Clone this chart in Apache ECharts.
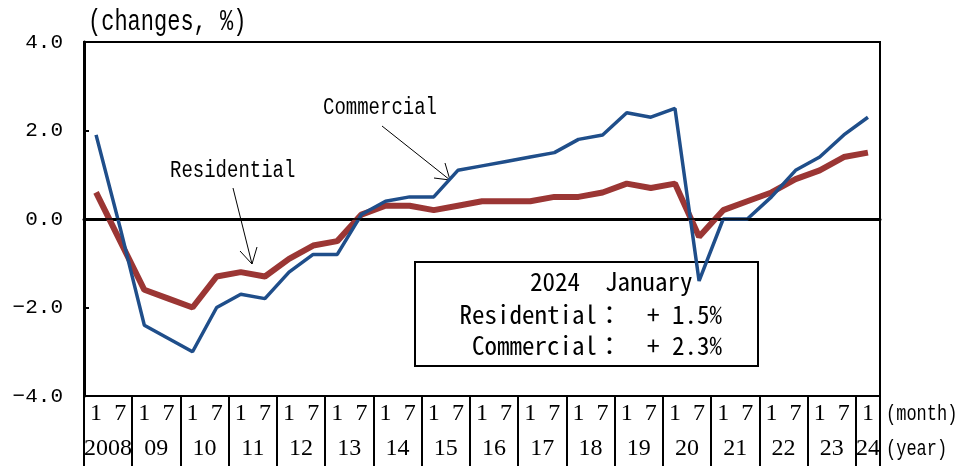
<!DOCTYPE html>
<html>
<head>
<meta charset="utf-8">
<script src="https://cdn.jsdelivr.net/npm/echarts@6/dist/echarts.min.js"></script>
<style>
  html, body { margin: 0; padding: 0; background: #fff; }
  #chart { width: 960px; height: 466px; }
</style>
</head>
<body>
<div id="chart"></div>
<script>
// Half-year survey points, January and July of each year
const periods = [
  '2008-01', '2008-07', '2009-01', '2009-07', '2010-01', '2010-07',
  '2011-01', '2011-07', '2012-01', '2012-07', '2013-01', '2013-07',
  '2014-01', '2014-07', '2015-01', '2015-07', '2016-01', '2016-07',
  '2017-01', '2017-07', '2018-01', '2018-07', '2019-01', '2019-07',
  '2020-01', '2020-07', '2021-01', '2021-07', '2022-01', '2022-07',
  '2023-01', '2023-07', '2024-01'
];

// Year-on-year changes, %
const residential = [
  0.6, -0.5, -1.6, -1.8, -2.0, -1.3, -1.2, -1.3, -0.9, -0.6, -0.5, 0.1,
  0.3, 0.3, 0.2, 0.3, 0.4, 0.4, 0.4, 0.5, 0.5, 0.6, 0.8, 0.7,
  0.8, -0.4, 0.2, 0.4, 0.6, 0.9, 1.1, 1.4, 1.5
];
const commercial = [
  1.9, -0.2, -2.4, -2.7, -3.0, -2.0, -1.7, -1.8, -1.2, -0.8, -0.8, 0.1,
  0.4, 0.5, 0.5, 1.1, 1.2, 1.3, 1.4, 1.5, 1.8, 1.9, 2.4, 2.3,
  2.5, -1.4, 0.0, 0.0, 0.5, 1.1, 1.4, 1.9, 2.3
];

// Year labels under the month row
const yearLabels = ['2008', '09', '10', '11', '12', '13', '14', '15', '16',
  '17', '18', '19', '20', '21', '22', '23', '24'];

const yTicks = { min: -4, max: 4, step: 2 };

// Positions on the secondary (slot-unit) axis: year band centres and edges
const yearCentres = [];
const yearEdges = [];
for (let i = 0; i < yearLabels.length; i++) {
  const start = i * 2;
  const width = Math.min(2, periods.length - start);
  yearCentres.push(start + width / 2);
  yearEdges.push(start);
}
yearEdges.push(periods.length);

const serif = '"Liberation Serif", "Times New Roman", serif';
const mono = '"Liberation Mono", "Courier New", monospace';
const boxFont = '"Noto Sans Mono CJK JP", "DejaVu Sans Mono", monospace';

const chart = echarts.init(document.getElementById('chart'), null, { renderer: 'canvas' });

function monoText(text, x, y, size, align) {
  return {
    type: 'text', x: x, y: y, scaleY: 1.3, silent: true,
    style: {
      text: text, x: 0, y: 0, fill: '#000',
      font: size + 'px ' + mono,
      textAlign: align || 'left', textVerticalAlign: 'middle'
    }
  };
}

function arrow(x1, y1, x2, y2, a1, a2) {
  const ls = { stroke: '#000', lineWidth: 1 };
  return [
    { type: 'line', silent: true, shape: { x1: x1, y1: y1, x2: x2, y2: y2 }, style: ls },
    { type: 'line', silent: true, shape: { x1: x2, y1: y2, x2: a1[0], y2: a1[1] }, style: ls },
    { type: 'line', silent: true, shape: { x1: x2, y1: y2, x2: a2[0], y2: a2[1] }, style: ls }
  ];
}

function boxText(text, x, y, align) {
  return {
    type: 'text', x: x, y: y, silent: true, z: 1,
    style: {
      text: text, x: 0, y: 0, fill: '#000',
      font: '25px ' + boxFont,
      textAlign: align, textVerticalAlign: 'middle'
    }
  };
}

const option = {
  animation: false,
  backgroundColor: '#fff',
  grid: {
    left: 84, right: 80, top: 42, bottom: 70,
    show: true, borderColor: '#000', borderWidth: 2, backgroundColor: 'transparent'
  },
  xAxis: [
    {
      type: 'category',
      data: periods,
      boundaryGap: true,
      position: 'bottom',
      axisLine: { show: true, lineStyle: { color: '#000', width: 3 } },
      axisTick: { show: false },
      axisLabel: {
        interval: 0, margin: 6, color: '#000',
        fontFamily: serif, fontSize: 24,
        formatter: function (v) { return String(parseInt(v.slice(5), 10)); }
      },
      splitLine: { show: false }
    },
    {
      type: 'value',
      min: 0, max: periods.length,
      position: 'bottom',
      axisLine: { show: false },
      axisTick: {
        show: true, inside: false, length: 70,
        customValues: yearEdges,
        lineStyle: { color: '#000', width: 2 }
      },
      axisLabel: {
        show: true, margin: 41, color: '#000',
        fontFamily: serif, fontSize: 24,
        customValues: yearCentres,
        formatter: function (v) { return yearLabels[Math.floor(v / 2)]; }
      },
      splitLine: { show: false }
    }
  ],
  yAxis: {
    type: 'value',
    min: yTicks.min, max: yTicks.max, interval: yTicks.step,
    axisLine: { show: true, lineStyle: { color: '#000', width: 3 } },
    axisTick: { show: true, inside: true, length: 5, lineStyle: { color: '#000', width: 2 } },
    axisLabel: {
      margin: 21, color: '#000', fontFamily: mono, fontSize: 21,
      formatter: function (v) { return v.toFixed(1).replace('-', '\u2212'); }
    },
    splitLine: { show: false }
  },
  series: [
    {
      name: 'Residential',
      type: 'line',
      data: residential,
      symbol: 'none',
      lineStyle: { color: '#9B3634', width: 6 },
      z: 3,
      markLine: {
        silent: true, symbol: 'none',
        label: { show: false },
        lineStyle: { color: '#000', width: 1.5, type: 'solid' },
        data: [{ yAxis: 0 }]
      }
    },
    {
      name: 'Commercial',
      type: 'line',
      data: commercial,
      symbol: 'none',
      lineStyle: { color: '#1F4E8A', width: 3.5 },
      z: 4
    }
  ],
  graphic: [
    monoText('(changes, %)', 88, 22, 22),
    monoText('(month)', 886, 414, 17),
    monoText('(year)', 886, 449, 17),
    monoText('Commercial', 323, 107, 19),
    monoText('Residential', 170, 170, 19)
  ]
    .concat(arrow(382, 126, 450, 180, [434, 178], [445, 163]))
    .concat(arrow(233, 188, 252, 264, [240, 251], [257, 247]))
    .concat([
      {
        type: 'rect', silent: true, z: 0,
        shape: { x: 415, y: 262, width: 343, height: 104 },
        style: { fill: '#fff', stroke: '#000', lineWidth: 2 }
      },
      boxText('2024  January', 530, 281, 'left'),
      boxText('Residential\uFF1A  + 1.5%', 722, 314, 'right'),
      boxText('Commercial\uFF1A  + 2.3%', 722, 345, 'right')
    ])
};

chart.setOption(option);
</script>
</body>
</html>
